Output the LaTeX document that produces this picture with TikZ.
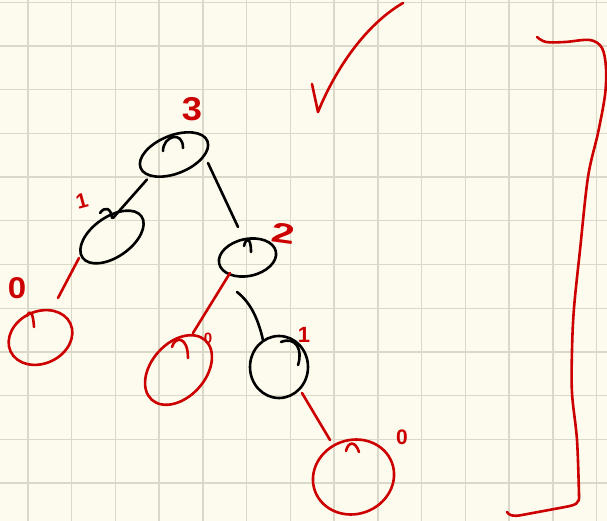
\documentclass[tikz,border=0pt]{standalone}
\usepackage{fontspec}
\setmainfont{Liberation Sans}
\usetikzlibrary{shapes.geometric,calc}
\definecolor{paper}{RGB}{253,251,237}
\definecolor{gridc}{RGB}{218,216,200}
\definecolor{ink}{RGB}{204,0,0}
\tikzset{
  pen/.style={line width=2.6pt,line cap=round,line join=round},
  bnode/.style={ellipse,draw=black,pen,inner sep=0pt},
  rnode/.style={ellipse,draw=ink,pen,inner sep=0pt},
  bedge/.style={pen,draw=black},
  redge/.style={pen,draw=ink},
  lab/.style={text=ink,inner sep=0pt}
}
\begin{document}
\begin{tikzpicture}[x=1pt,y=-1pt]
\useasboundingbox (0,0) rectangle (607,521);
\fill[paper] (0,0) rectangle (607,521);
% grid
\foreach \i in {0,...,13} {
  \draw[gridc,line width=1.4pt] ({27.8+43.75*\i},0) -- ({27.8+43.75*\i},521);
}
\foreach \j in {0,...,11} {
  \draw[gridc,line width=1.4pt] (0,{2.3+43.7*\j}) -- (607,{2.3+43.7*\j});
}
% nodes
\node[bnode,minimum width=72pt,minimum height=38pt,rotate=22] (n3) at (174,154.5) {};
\node[bnode,minimum width=72pt,minimum height=40pt,rotate=35] (n1) at (112,237) {};
\node[bnode,minimum width=58pt,minimum height=37pt,rotate=12] (n2) at (247.5,257.5) {};
\node[rnode,minimum width=66pt,minimum height=52pt,rotate=25] (n0b) at (40.5,337.5) {};
\node[rnode,minimum width=80pt,minimum height=54pt,rotate=48] (n0a) at (178.5,370) {};
\node[bnode,minimum width=58pt,minimum height=62pt] (n1b) at (279,367) {};
\node[rnode,minimum width=82pt,minimum height=74pt,rotate=20] (n0c) at (353.5,477) {};
% humps inside nodes
\draw[pen] (163,151) .. controls (163,136) and (183,130) .. (183,148);
\draw[pen] (244,246) .. controls (246,237) and (251,237) .. (251,252);
\draw[pen] (100,213) .. controls (105,206) and (111,208) .. (112,218);
\draw[pen] (281,342) .. controls (296,336) and (303,350) .. (298,365);
\draw[pen,ink] (172,347) .. controls (175,336) and (188,336) .. (188,358);
\draw[pen,ink] (346,451) .. controls (348,442) and (355,440) .. (359,452);
\draw[pen,ink] (27,316) .. controls (30,309) and (33,312) .. (34,327);
% connectors
\draw[bedge] ($(n3)+(-27,25)$) -- ($(n1)+(1,-19)$);
\draw[bedge] ($(n3)+(34,8.5)$) -- ($(n2)+(-9.5,-30.5)$);
\draw[redge] ($(n1)+(-33,21)$) -- ($(n0b)+(17.5,-39.5)$);
\draw[redge] ($(n2)+(-17.5,15.5)$) -- ($(n0a)+(14.5,-37)$);
\draw[bedge] ($(n2)+(-10.5,34.5)$) .. controls ($(n2)+(2.5,44.5)$) and ($(n2)+(10.5,60.5)$) .. ($(n1b)+(-16,-27)$);
\draw[redge] ($(n1b)+(23,26)$) -- ($(n0c)+(-23.5,-37)$);
% labels
\node[lab,font=\bfseries\fontsize{33}{33}\selectfont] (l3) at (192,109) {\scalebox{1.1}[1]{3}};
\node[lab,font=\bfseries\fontsize{28}{28}\selectfont,rotate=-8] (l2) at (283,233) {\scalebox{1.5}[1]{2}};
\node[lab,font=\bfseries\fontsize{21}{21}\selectfont,rotate=15] (l1a) at (82,201) {1};
\node[lab,font=\bfseries\fontsize{30}{30}\selectfont] (l0a) at (17,288) {\scalebox{1.1}[1]{0}};
\node[lab,font=\bfseries\fontsize{15}{15}\selectfont] (l0b) at (208,338) {0};
\node[lab,font=\bfseries\fontsize{22}{22}\selectfont] (l1b) at (304,335) {1};
\node[lab,font=\bfseries\fontsize{21}{21}\selectfont] (l0c) at (402,437) {0};
% check mark
\draw[pen,ink] (312,84) -- (318,112) .. controls (335,70) and (365,25) .. (403,3);
% bracket
\draw[pen,ink] plot[smooth,tension=0.55] coordinates {(537,37) (546,42) (565,42) (590,40) (602,48) (606,68) (605,95) (598,133) (588,177) (580,250) (574,308) (572,350) (572,393) (577,440) (579,495)};
\draw[pen,ink] (579,495) .. controls (580,504) and (575,505) .. (565,507) -- (522,515) .. controls (512,517) and (509,515) .. (507,512);
\end{tikzpicture}
\end{document}
